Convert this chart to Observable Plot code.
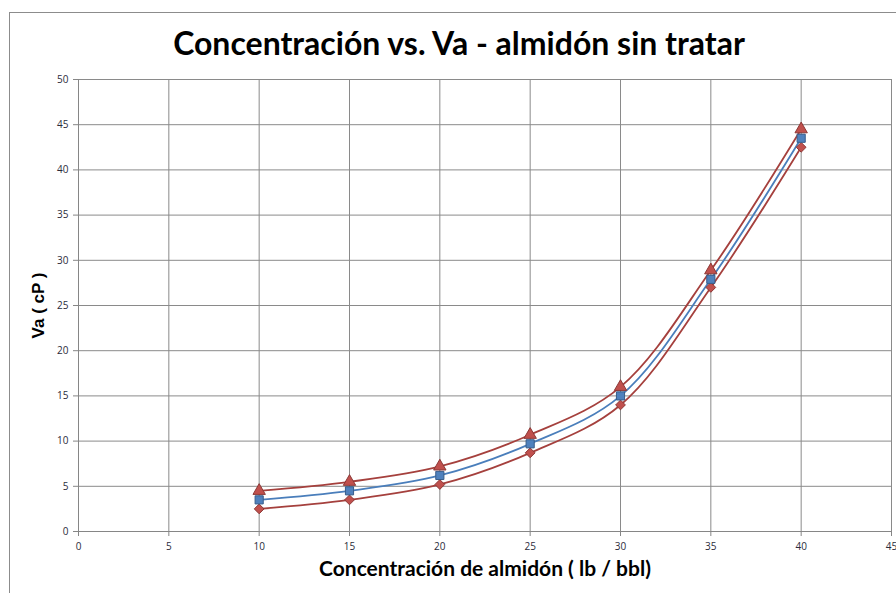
<!DOCTYPE html>
<html>
<head>
<meta charset="utf-8">
<script src="https://cdn.jsdelivr.net/npm/d3@7"></script>
<script src="https://cdn.jsdelivr.net/npm/@observablehq/plot@0.6"></script>
<style>
  html, body { margin: 0; padding: 0; background: #fff; }
  #wrap { position: relative; width: 896px; height: 593px; overflow: hidden; }
  #border { position: absolute; left: 9px; top: 12px; width: 1000px; height: 1000px; border: 1px solid #8c8c8c; box-sizing: border-box; }
  #title { position: absolute; left: 0; top: 23px; width: 918px; text-align: center; font-family: Lato, "Open Sans", sans-serif; font-weight: bold; font-size: 32px; color: #000; }
  #chart { position: absolute; left: 0; top: 0; }
</style>
</head>
<body>
<div id="wrap">
  <div id="border"></div>
  <div id="chart"></div>
  <div id="title">Concentración vs. Va - almidón sin tratar</div>
</div>
<script>
const conc = [10, 15, 20, 25, 30, 35, 40];
const vaMedia = [3.5, 4.5, 6.2, 9.7, 15, 27.9, 43.5];
const vaMax = [4.5, 5.5, 7.2, 10.7, 16, 28.9, 44.5];
const vaMin = [2.5, 3.5, 5.2, 8.7, 14, 27, 42.5];
const xTicks = [0, 5, 10, 15, 20, 25, 30, 35, 40, 45];
const yTicks = [0, 5, 10, 15, 20, 25, 30, 35, 40, 45, 50];

const media = conc.map((c, i) => ({x: c, y: vaMedia[i]}));
const maxi = conc.map((c, i) => ({x: c, y: vaMax[i]}));
const mini = conc.map((c, i) => ({x: c, y: vaMin[i]}));

const red = "#A5403D", redFill = "#C0504D", redStroke = "#8C3836";
const blue = "#4A7EBB", blueFill = "#4F81BD", blueStroke = "#385D8A";

const chart = Plot.plot({
  width: 896,
  height: 593,
  marginLeft: 78,
  marginRight: 5,
  marginTop: 79,
  marginBottom: 62,
  style: {fontFamily: "'Open Sans', sans-serif", fontSize: "10px", color: "#2b2b3b", background: "transparent"},
  x: {domain: [0, 45], ticks: xTicks, tickSize: 5, tickPadding: 6, label: null},
  y: {domain: [0, 50], ticks: yTicks, tickSize: 5, tickPadding: 5, label: null},
  marks: [
    Plot.gridX(xTicks, {stroke: "#8a8a8a", strokeOpacity: 1, strokeWidth: 1}),
    Plot.gridY(yTicks, {stroke: "#8a8a8a", strokeOpacity: 1, strokeWidth: 1}),
    Plot.frame({stroke: "#8a8a8a", strokeWidth: 1}),
    Plot.axisX({ticks: xTicks, tickSize: 5, tickPadding: 6, stroke: "#868686", label: null}),
    Plot.axisY({ticks: yTicks, tickSize: 5, tickPadding: 5, stroke: "#868686", label: null}),
    Plot.ruleY([0], {stroke: "#868686"}),
    Plot.ruleX([0], {stroke: "#868686"}),
    Plot.line(maxi, {x: "x", y: "y", curve: "catmull-rom", stroke: red, strokeWidth: 1.8}),
    Plot.line(mini, {x: "x", y: "y", curve: "catmull-rom", stroke: red, strokeWidth: 1.8}),
    Plot.line(media, {x: "x", y: "y", curve: "catmull-rom", stroke: blue, strokeWidth: 1.8}),
    Plot.dot(maxi, {x: "x", y: "y", symbol: "triangle", r: 4.6, fill: redFill, stroke: redStroke, strokeWidth: 1}),
    Plot.dot(mini, {x: "x", y: "y", symbol: "diamond2", r: 4.4, fill: redFill, stroke: redStroke, strokeWidth: 1}),
    Plot.dot(media, {x: "x", y: "y", symbol: "square", r: 4.6, fill: blueFill, stroke: blueStroke, strokeWidth: 1}),
    Plot.text(["Concentración de almidón ( lb / bbl)"], {frameAnchor: "bottom", dy: 44, fontFamily: "Lato, 'Open Sans', sans-serif", fontWeight: "bold", fontSize: 21, fill: "#000"}),
    Plot.text(["Va ( cP )"], {frameAnchor: "left", textAnchor: "middle", dx: -40, rotate: -90, fontFamily: "'Liberation Sans', Arial, sans-serif", fontWeight: "bold", fontSize: 17, fill: "#000"})
  ]
});
document.getElementById("chart").appendChild(chart);
</script>
</body>
</html>
